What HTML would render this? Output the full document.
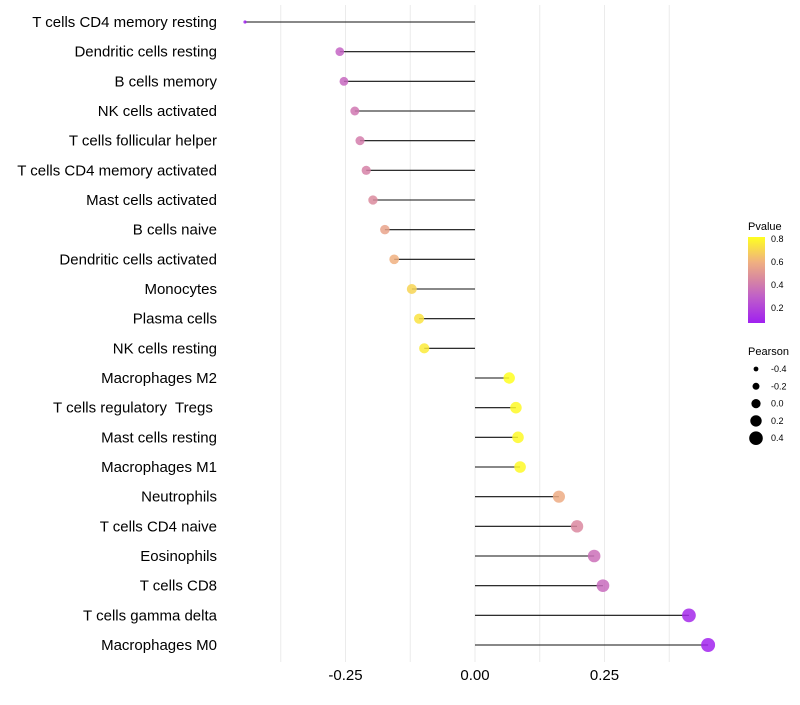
<!DOCTYPE html>
<html><head><meta charset="utf-8"><style>
body{margin:0;background:#fff;font-family:"Liberation Sans",sans-serif}
</style></head><body>
<svg id="chart" width="800" height="700" xmlns="http://www.w3.org/2000/svg" font-family="Liberation Sans, sans-serif">
<defs><linearGradient id="pg" x1="0" y1="1" x2="0" y2="0">
<stop offset="0" stop-color="#a020f0"/><stop offset="0.31" stop-color="#c060c8"/><stop offset="0.51" stop-color="#d888a0"/><stop offset="0.71" stop-color="#f0b080"/><stop offset="1" stop-color="#ffff20"/></linearGradient></defs>
<g id="grid"></g><g id="marks"></g><g id="labels"></g><g id="xticks"></g>
<g>
<text x="748" y="230" font-size="11">Pvalue</text>
<rect x="748" y="237" width="17" height="86" fill="url(#pg)"/>
<text x="771" y="242" font-size="9">0.8</text><text x="771" y="265" font-size="9">0.6</text>
<text x="771" y="288" font-size="9">0.4</text><text x="771" y="311" font-size="9">0.2</text>
</g>
<g id="sizeLegend"><text x="748" y="355" font-size="11">Pearson</text></g>
</svg>
<script>
const categories=["T cells CD4 memory resting","Dendritic cells resting","B cells memory","NK cells activated","T cells follicular helper","T cells CD4 memory activated","Mast cells activated","B cells naive","Dendritic cells activated","Monocytes","Plasma cells","NK cells resting","Macrophages M2","T cells regulatory  Tregs ","Mast cells resting","Macrophages M1","Neutrophils","T cells CD4 naive","Eosinophils","T cells CD8","T cells gamma delta","Macrophages M0"];
const pearson=[-0.444,-0.261,-0.253,-0.232,-0.222,-0.210,-0.197,-0.174,-0.156,-0.122,-0.108,-0.098,0.066,0.079,0.083,0.087,0.162,0.197,0.230,0.247,0.413,0.450];
const pvalues=[0.07,0.30,0.32,0.38,0.40,0.42,0.46,0.55,0.60,0.70,0.74,0.76,0.82,0.80,0.80,0.80,0.58,0.45,0.35,0.33,0.10,0.08];
const xTicks=[-0.25,0,0.25];
const xTickLabels=["-0.25","0.00","0.25"];
const sizeLegendVals=[-0.4,-0.2,0.0,0.2,0.4];
const ns="http://www.w3.org/2000/svg";
const xs=v=>475+v*518;
const ys=i=>22+i*(623/21);
const rs=v=>v<-0.4?1.6:Math.sqrt(Math.max(2,30+42*v));
const stops=[[0.07,[160,32,240]],[0.3,[196,100,196]],[0.45,[218,136,160]],[0.6,[240,176,128]],[0.815,[255,255,32]]];
function col(p){if(p<=stops[0][0])return "rgb("+stops[0][1]+")";for(let i=1;i<stops.length;i++){if(p<=stops[i][0]){const t=(p-stops[i-1][0])/(stops[i][0]-stops[i-1][0]);const c=stops[i-1][1].map((a,k)=>Math.round(a+(stops[i][1][k]-a)*t));return "rgb("+c+")";}}return "rgb("+stops[stops.length-1][1]+")";}
function mk(t,a,parent){const e=document.createElementNS(ns,t);for(const k in a)e.setAttribute(k,a[k]);document.getElementById(parent).appendChild(e);return e;}
[-0.375,-0.25,-0.125,0,0.125,0.25,0.375].forEach(v=>{const g=mk("line",{x1:xs(v),x2:xs(v),y1:5,y2:662,stroke:"#ebebeb","stroke-width":1},"grid");

});
categories.forEach((c,i)=>{
const l=mk("line",{x1:xs(0),x2:xs(pearson[i]),y1:ys(i),y2:ys(i),stroke:"#111","stroke-width":1.1},"marks");


const p=mk("circle",{cx:xs(pearson[i]),cy:ys(i),r:rs(pearson[i]),fill:col(pvalues[i]),"fill-opacity":0.85},"marks");


const t=mk("text",{x:217,y:ys(i)+5,"text-anchor":"end","font-size":15,fill:"#000","xml:space":"preserve",style:"white-space:pre"},"labels");


t.textContent=c;});
xTicks.forEach((v,i)=>{const t=mk("text",{x:xs(v),y:680,"text-anchor":"middle","font-size":15,fill:"#000"},"xticks");


t.textContent=xTickLabels[i];});
sizeLegendVals.forEach((v,i)=>{const y=369+i*17.3;
const c=mk("circle",{cx:756,cy:y,r:2.4+i*1.1,fill:"#000"},"sizeLegend");


const t=mk("text",{x:771,y:y+3,"font-size":9},"sizeLegend");


t.textContent=v.toFixed(1);});
</script>
</body></html>
